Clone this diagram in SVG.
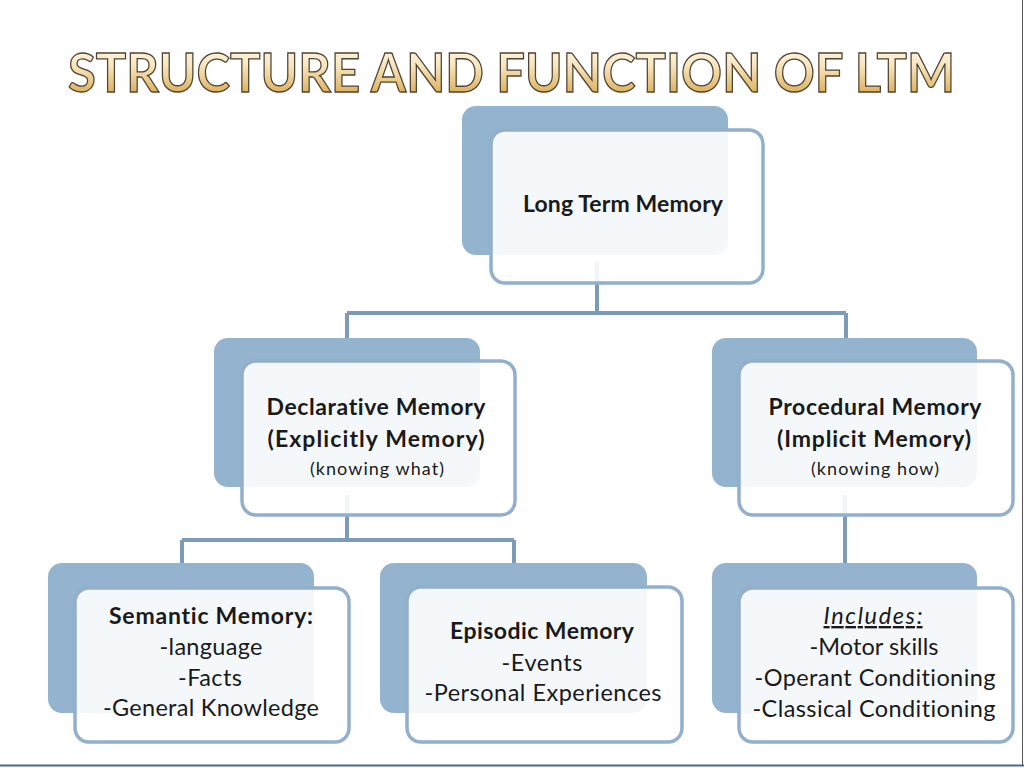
<svg xmlns="http://www.w3.org/2000/svg" width="1024" height="768" viewBox="0 0 1024 768">
<defs>
<linearGradient id="gold" x1="0" y1="0" x2="0" y2="1">
<stop offset="0" stop-color="#fffaf0"/>
<stop offset="0.4" stop-color="#f8e6bf"/>
<stop offset="1" stop-color="#d49d38"/>
</linearGradient>
<linearGradient id="lb" x1="0" y1="0" x2="0" y2="1">
<stop offset="0" stop-color="#9db6d3"/>
<stop offset="1" stop-color="#4b6c9c"/>
</linearGradient>
<style>
.back{fill:#93b3cf}
.front{fill:#ffffff;fill-opacity:0.9;stroke:#92afcb;stroke-width:3.5}
.conn{stroke:#7d9ab7;stroke-width:4;fill:none}
text{font-family:Lato,"Liberation Sans",sans-serif;fill:#1a1a1a;text-anchor:middle;font-variant-ligatures:none}
.b{font-weight:bold;font-size:23px}
.n{font-size:23.5px}
.s{font-size:18px}
.title{font-family:Lato,"Liberation Sans",sans-serif;font-size:53px;font-weight:bold;fill:url(#gold);stroke:#4f4535;stroke-width:1.3;text-anchor:start}
</style>
</defs>
<rect x="0" y="0" width="1024" height="768" fill="#ffffff"/>
<line x1="3" y1="0" x2="3" y2="766" stroke="url(#lb)" stroke-width="3"/>
<line x1="0" y1="765.5" x2="1024" y2="765.5" stroke="#4a6896" stroke-width="2"/>
<line x1="1022.5" y1="0" x2="1022.5" y2="766" stroke="#555" stroke-width="1"/>
<text class="title" x="68" y="92" textLength="887" lengthAdjust="spacingAndGlyphs">STRUCTURE AND FUNCTION OF LTM</text>
<g id="connectors">
<path class="conn" d="M597 262 V313 M347 313 H846 M347 313 V340 M846 313 V340"/>
<path class="conn" d="M347 495 V540 M182 540 H514 M182 540 V565 M514 540 V565"/>
<path class="conn" d="M845 495 V565"/>
</g>
<g id="ltm">
<rect class="back" x="462" y="106" width="266" height="149" rx="14"/>
<rect class="front" x="491" y="130" width="272" height="153" rx="14"/>
<text class="b" x="623" y="212" textLength="200">Long Term Memory</text>
</g>
<g id="declarative">
<rect class="back" x="214" y="338" width="266" height="149" rx="14"/>
<rect class="front" x="242" y="361" width="273" height="154" rx="14"/>
<text class="b" x="376" y="415" textLength="219">Declarative Memory</text>
<text class="b" x="376" y="447" textLength="217">(Explicitly Memory)</text>
<text class="s" x="377" y="475" textLength="134">(knowing what)</text>
</g>
<g id="procedural">
<rect class="back" x="712" y="338" width="265" height="149" rx="14"/>
<rect class="front" x="739" y="361" width="274" height="154" rx="14"/>
<text class="b" x="875" y="415" textLength="213">Procedural Memory</text>
<text class="b" x="874" y="447" textLength="194">(Implicit Memory)</text>
<text class="s" x="875" y="475" textLength="128">(knowing how)</text>
</g>
<g id="semantic">
<rect class="back" x="48" y="563" width="266" height="150" rx="14"/>
<rect class="front" x="75" y="588" width="274" height="154" rx="14"/>
<text class="b" x="211" y="624" textLength="204">Semantic Memory:</text>
<text class="n" x="211" y="655" textLength="103">-language</text>
<text class="n" x="210" y="686" textLength="64">-Facts</text>
<text class="n" x="211" y="716" textLength="216">-General Knowledge</text>
</g>
<g id="episodic">
<rect class="back" x="380" y="563" width="267" height="150" rx="14"/>
<rect class="front" x="407" y="587" width="275" height="155" rx="14"/>
<text class="b" x="542" y="639" textLength="184">Episodic Memory</text>
<text class="n" x="542" y="671" textLength="81">-Events</text>
<text class="n" x="543" y="701" textLength="237">-Personal Experiences</text>
</g>
<g id="includes">
<rect class="back" x="712" y="563" width="265" height="150" rx="14"/>
<rect class="front" x="739" y="588" width="274" height="154" rx="14"/>
<text class="n" x="873" y="624" font-style="italic" text-decoration="underline" textLength="99">Includes:</text>
<text class="n" x="874" y="655" textLength="129">-Motor skills</text>
<text class="n" x="875" y="686" textLength="241">-Operant Conditioning</text>
<text class="n" x="874" y="717" textLength="243">-Classical Conditioning</text>
</g>
</svg>
